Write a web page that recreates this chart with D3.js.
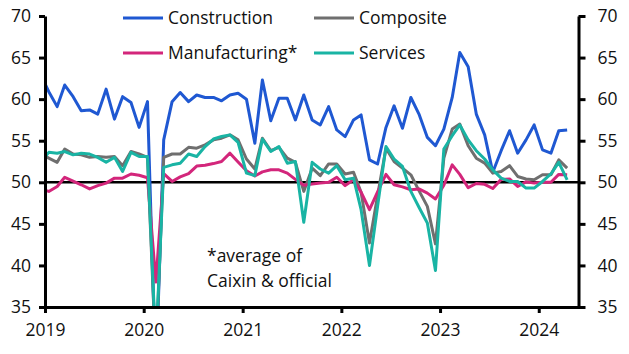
<!DOCTYPE html>
<html lang="en">
<head>
    <title>China PMIs</title>
    <script src="https://d3js.org/d3.v7.min.js"></script>
    <style>
        body { margin: 0; background: #fff; }
        text { font-family: "Open Sans", sans-serif; fill: #111; }
    </style>
</head>
<body>
<script>
    // Months: Dec 2018 .. Apr 2024 (first point sits just left of the axis and is clipped)
    const firstMonth = new Date(2018, 11, 15);
    const monthCount = 65;

    // Series values
    const construction = [63.0,
        60.9, 59.1, 61.7, 60.3, 58.6, 58.7, 58.2, 61.2, 57.6, 60.3, 59.6, 56.6,
        59.7, 26.6, 55.1, 59.7, 60.8, 59.7, 60.5, 60.2, 60.2, 59.8, 60.5, 60.7,
        60.0, 54.7, 62.3, 57.4, 60.1, 60.1, 57.5, 60.5, 57.5, 56.9, 59.1, 56.3,
        55.5, 57.5, 58.1, 52.7, 52.2, 56.6, 59.2, 56.5, 60.2, 58.2, 55.4, 54.4,
        56.4, 60.2, 65.6, 63.9, 58.2, 55.7, 51.2, 53.8, 56.2, 53.5, 55.1, 56.9,
        53.9, 53.5, 56.2, 56.3];
    const composite = [53.6,
        52.9, 52.4, 54.0, 53.4, 53.3, 53.0, 53.1, 53.0, 53.1, 52.0, 53.7, 53.4,
        53.0, 28.9, 53.0, 53.4, 53.4, 54.2, 54.1, 54.5, 55.1, 55.3, 55.7, 55.1,
        52.8, 51.6, 55.3, 53.8, 54.2, 52.9, 52.4, 48.9, 51.7, 50.8, 52.2, 52.2,
        51.0, 51.2, 48.8, 42.7, 48.4, 54.1, 52.5, 51.7, 50.9, 49.0, 47.1, 42.6,
        52.9, 56.4, 57.0, 54.4, 52.9, 52.3, 51.1, 51.3, 52.0, 50.7, 50.4, 50.3,
        50.9, 50.9, 52.7, 51.7];
    const manufacturing = [49.2,
        48.9, 49.5, 50.6, 50.15, 49.7, 49.2, 49.6, 49.9, 50.5, 50.5, 51.0, 50.85,
        50.55, 38.0, 51.05, 50.1, 50.65, 51.05, 51.95, 52.05, 52.25, 52.5, 53.5, 52.45,
        51.4, 50.75, 51.25, 51.5, 51.5, 51.1, 50.35, 49.65, 49.8, 49.9, 50.0, 50.6,
        49.6, 50.3, 48.8, 46.7, 48.85, 50.95, 49.7, 49.45, 49.1, 49.2, 48.7, 48.0,
        49.65, 52.1, 50.95, 49.35, 49.85, 49.75, 49.25, 50.35, 50.4, 49.5, 50.05, 49.9,
        50.0, 50.0, 50.95, 50.9];
    const services = [52.4,
        53.6, 53.5, 53.7, 53.3, 53.5, 53.4, 53.0, 52.4, 53.0, 51.3, 53.6, 53.1,
        53.1, 30.1, 51.8, 52.1, 52.3, 53.4, 53.1, 54.3, 55.2, 55.5, 55.7, 54.8,
        51.1, 50.8, 55.2, 53.7, 54.3, 52.3, 52.5, 45.2, 52.4, 51.6, 51.1, 52.0,
        50.3, 50.5, 46.7, 40.0, 47.1, 54.3, 52.8, 51.9, 48.9, 47.0, 45.1, 39.4,
        54.0, 55.6, 56.9, 55.1, 53.8, 52.8, 51.5, 50.5, 50.1, 50.1, 49.3, 49.3,
        50.1, 51.0, 52.4, 50.3];

    const yTicks = [35, 40, 45, 50, 55, 60, 65, 70];
    const xTickYears = [2019, 2020, 2021, 2022, 2023, 2024];

    // Series order as in the legend (row by row)
    const series = [
        { name: "Construction",   values: construction,  color: "#1f58d2" },
        { name: "Composite",      values: composite,     color: "#6f6f6f" },
        { name: "Manufacturing*", values: manufacturing, color: "#d3267b" },
        { name: "Services",       values: services,      color: "#19b4a4" }
    ];

    const months = d3.range(monthCount).map(i => d3.timeMonth.offset(firstMonth, i));

    // Dimensions
    const width = 629, height = 354;
    const plotL = 45, plotR = 578.5, plotT = 16, plotB = 307;

    const svg = d3.select("body").append("svg")
        .attr("width", width)
        .attr("height", height);

    const x = d3.scaleTime()
        .domain([new Date(2019, 0, 1), new Date(2024, 4, 27)])
        .range([plotL, plotR]);

    const y = d3.scaleLinear()
        .domain([35, 70])
        .range([plotB, plotT]);

    svg.append("defs").append("clipPath")
        .attr("id", "plot")
        .append("rect")
        .attr("x", plotL).attr("y", plotT - 5)
        .attr("width", plotR - plotL).attr("height", plotB - plotT + 5);

    // 50 line
    svg.append("line")
        .attr("x1", plotL).attr("x2", plotR)
        .attr("y1", y(50)).attr("y2", y(50))
        .attr("stroke", "#000")
        .attr("stroke-width", 2.6);

    // lines
    const line = d3.line()
        .x((d, i) => x(months[i]))
        .y(d => y(d));

    svg.append("g")
        .attr("clip-path", "url(#plot)")
        .selectAll("path")
        .data(series)
        .enter()
        .append("path")
        .attr("fill", "none")
        .attr("stroke", d => d.color)
        .attr("stroke-width", 3)
        .attr("stroke-linejoin", "round")
        .attr("d", d => line(d.values));

    // axes
    function styleAxis(g) {
        g.select(".domain").attr("stroke", "#000").attr("stroke-width", 3);
        g.selectAll(".tick line").attr("stroke", "#000").attr("stroke-width", 3);
        g.selectAll(".tick text")
            .style("font-size", "17.5px")
            .attr("fill", "#111");
    }

    svg.append("g")
        .attr("transform", `translate(${plotL},0)`)
        .call(d3.axisLeft(y).tickValues(yTicks).tickSize(6).tickSizeOuter(0).tickPadding(8))
        .call(styleAxis);

    svg.append("g")
        .attr("transform", `translate(${plotR},0)`)
        .call(d3.axisRight(y).tickValues(yTicks).tickSize(7).tickSizeOuter(0).tickPadding(12))
        .call(styleAxis);

    svg.append("g")
        .attr("transform", `translate(0,${plotB})`)
        .call(d3.axisBottom(x)
            .tickValues(xTickYears.map(yr => new Date(yr, 0, 1)))
            .tickFormat(d3.timeFormat("%Y"))
            .tickSize(6).tickSizeOuter(0).tickPadding(11))
        .call(styleAxis);

    // legend
    const legend = [
        { s: series[0], lx: 123, ly: 18 },
        { s: series[1], lx: 314, ly: 18 },
        { s: series[2], lx: 123, ly: 53 },
        { s: series[3], lx: 314, ly: 53 }
    ];
    const lg = svg.append("g").selectAll("g")
        .data(legend)
        .enter()
        .append("g");
    lg.append("line")
        .attr("x1", d => d.lx).attr("x2", d => d.lx + 40)
        .attr("y1", d => d.ly).attr("y2", d => d.ly)
        .attr("stroke", d => d.s.color)
        .attr("stroke-width", 3);
    lg.append("text")
        .attr("x", d => d.lx + 45)
        .attr("y", d => d.ly + 6)
        .style("font-size", "17.5px")
        .text(d => d.s.name);

    // footnote
    const note = svg.append("text")
        .attr("x", 207)
        .style("font-size", "17.5px");
    note.append("tspan").attr("x", 207).attr("y", 262).text("*average of");
    note.append("tspan").attr("x", 207).attr("y", 287).text("Caixin & official");
</script>
</body>
</html>
